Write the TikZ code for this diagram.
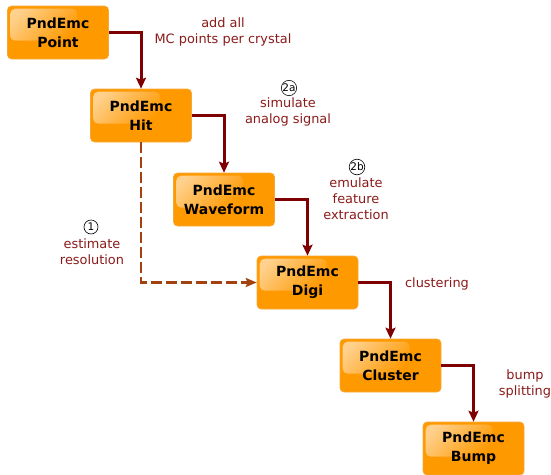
\documentclass[tikz,border=0pt]{standalone}
\usepackage{fontspec}
\setmainfont{DejaVu Sans}
\usetikzlibrary{arrows.meta,fadings}
\definecolor{boxorange}{HTML}{FF9900}
\definecolor{boxedge}{HTML}{F5A83A}
\definecolor{flowred}{HTML}{7F0000}
\definecolor{labelred}{HTML}{8B1A1A}
\definecolor{dashbrown}{HTML}{A3420E}
\tikzfading[name=glossfade, left color=transparent!45, right color=transparent!100]
\tikzset{
  x=1pt, y=-1pt,
  classbox/.style={draw=boxedge, line width=0.6pt, fill=boxorange, rounded corners=4pt,
    minimum width=101pt, minimum height=53pt, align=center,
    font=\fontsize{14}{19}\selectfont\bfseries, inner sep=0pt},
  boxtext/.style={font=\fontsize{14}{19}\selectfont\bfseries, align=center, inner sep=0pt},
  flow/.style={draw=flowred, line width=3pt, -{Stealth[length=11pt,width=10pt,inset=2pt]}},
  estflow/.style={draw=dashbrown, line width=2.5pt, dash pattern=on 11pt off 4pt,
    -{Stealth[length=11pt,width=9pt,inset=2pt]}},
  steplabel/.style={text=labelred, align=center, font=\fontsize{12.9}{16}\selectfont, inner sep=0pt},
  stepnum/.style={draw=black, circle, line width=0.6pt, inner sep=0pt, minimum size=14pt,
    font=\fontsize{10.5}{10.5}\selectfont, text=black}
}
\newcommand{\glossbox}[3]{%
  \node[classbox] (#1) at (#2) {\phantom{PndEmc}};
  \begin{scope}[shift={(#1.north west)}]
    \fill[white, rounded corners=5pt, path fading=glossfade, fading angle=-25]
      (3,3) rectangle (70,35);
  \end{scope}
  \node[boxtext] at (#1) {PndEmc\\#3};
}
\begin{document}
\begin{tikzpicture}
\useasboundingbox (0,0) rectangle (551,474);

% processing chain, one box per data class
\glossbox{point}{58,32.5}{Point}
\glossbox{hit}{141,115.5}{Hit}
\glossbox{wave}{224,199.5}{Waveform}
\glossbox{digi}{307.5,282.5}{Digi}
\glossbox{cluster}{390.5,365.5}{Cluster}
\glossbox{bump}{473.5,448.5}{Bump}

% connectors between the stages
\draw[flow] (point.east) -| (hit.north);
\draw[flow] (hit.east) -| (wave.north);
\draw[flow] (wave.east) -| (digi.north);
\draw[flow] (digi.east) -| (cluster.north);
\draw[flow] (cluster.east) -| (bump.north);
\draw[estflow] (hit.south) |- (digi.west);

% step descriptions
\node[steplabel] (lpoint) at (223,32) {add all\\MC points per crystal};
\node[stepnum] (n2a) at (289,88) {2a};
\node[steplabel] (lhit) at (288,112) {simulate\\analog signal};
\node[stepnum] (n2b) at (357,167) {2b};
\node[steplabel] (lwave) at (356,199) {emulate\\feature\\extraction};
\node[stepnum] (n1) at (91,227) {1};
\node[steplabel] (lest) at (92,251.5) {estimate\\resolution};
\node[steplabel] (ldigi) at (437,284) {clustering};
\node[steplabel] (lcluster) at (525,383.5) {bump\\splitting};
\end{tikzpicture}
\end{document}
